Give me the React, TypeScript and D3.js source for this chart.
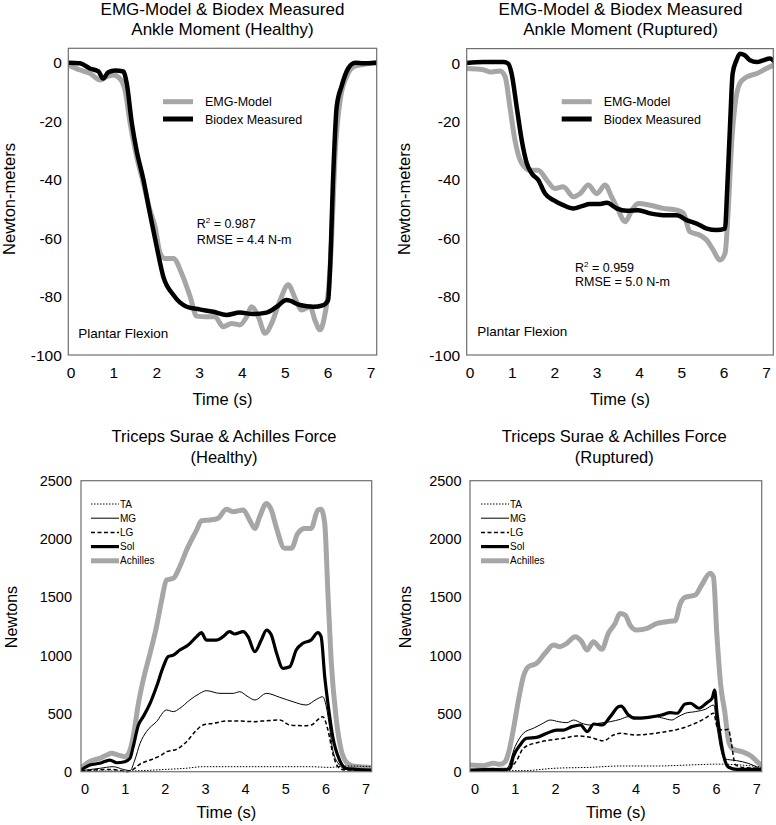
import React from "react";
import * as d3 from "d3";

type Pt = [number, number];

// ---------- DATA ----------
const xTickValues = [0, 1, 2, 3, 4, 5, 6, 7];
const momentTicks = [0, -20, -40, -60, -80, -100];
const forceTicks = [0, 500, 1000, 1500, 2000, 2500];

const healthyBiodex: Pt[] = [[-0.063,0],[0.21,-0.2],[0.44,-2],[0.64,-3],[0.75,-5.4],[0.87,-3.3],[1.03,-2.7],[1.22,-3],[1.3,-7],[1.42,-20.7],[1.53,-30],[1.69,-40],[1.84,-51.5],[2.0,-63],[2.15,-73],[2.39,-79.5],[2.7,-83.5],[3.0,-84.4],[3.32,-85.2],[3.63,-86.3],[3.94,-85.5],[4.25,-86],[4.56,-85.5],[4.8,-83.5],[5.03,-81.2],[5.34,-82.9],[5.65,-83.5],[5.89,-82.9],[6.0,-81.2],[6.04,-72],[6.12,-37.9],[6.2,-15],[6.31,-8.2],[6.47,-1.9],[6.63,0],[6.82,-0.2],[7.133,0]];
const healthyEMG: Pt[] = [[-0.063,-0.8],[0.21,-2.5],[0.44,-3.6],[0.68,-5.9],[0.83,-4.8],[0.99,-4.2],[1.14,-5.4],[1.26,-9.4],[1.38,-20.7],[1.53,-32],[1.69,-41.3],[1.84,-50.4],[1.96,-56],[2.08,-65.2],[2.19,-67],[2.39,-67],[2.58,-72],[2.78,-80],[2.93,-86.7],[3.16,-86.9],[3.36,-86.9],[3.55,-90.3],[3.75,-89.2],[3.94,-89.7],[4.1,-86.9],[4.21,-83.5],[4.37,-86.9],[4.53,-92.6],[4.68,-89.2],[4.88,-81.2],[5.07,-76],[5.23,-80.6],[5.38,-84.6],[5.58,-83.5],[5.69,-88],[5.81,-91.4],[5.93,-85.7],[6.0,-78.9],[6.08,-60.7],[6.16,-32],[6.28,-12.8],[6.43,-4.8],[6.59,-1.4],[6.74,-0.8],[7.133,0]];

const rupturedBiodex: Pt[] = [[-0.08,0],[0.31,0.3],[0.79,0.3],[0.9,-0.2],[0.98,-3.6],[1.1,-15],[1.22,-26.5],[1.34,-34.4],[1.46,-37.9],[1.61,-40.1],[1.77,-44.7],[1.97,-47],[2.2,-48.7],[2.44,-49.8],[2.64,-49],[2.83,-48.3],[3.03,-48.3],[3.23,-47.9],[3.46,-49.8],[3.7,-50.6],[3.97,-50.4],[4.25,-51.5],[4.56,-52.1],[4.88,-52.1],[5.11,-53.8],[5.35,-55],[5.59,-56.7],[5.82,-57.2],[6.02,-56.7],[6.07,-43.6],[6.14,-20.8],[6.2,-3.6],[6.29,0.9],[6.37,3.2],[6.49,2.6],[6.61,0.9],[6.77,0.3],[6.92,0.9],[7.08,1.5],[7.16,0.8]];
const rupturedEMG: Pt[] = [[-0.08,-1.9],[0.31,-2.3],[0.47,-3.1],[0.71,-2.7],[0.83,-4.8],[0.94,-15],[1.06,-26.5],[1.22,-34.4],[1.42,-36.7],[1.61,-36.7],[1.81,-40.1],[2.0,-43],[2.2,-42.4],[2.44,-45.8],[2.6,-44.7],[2.79,-41.8],[2.99,-44.7],[3.19,-41.8],[3.34,-45.8],[3.5,-50.4],[3.66,-54.4],[3.82,-50.4],[3.97,-48.1],[4.25,-48.7],[4.56,-49.8],[4.88,-50.4],[5.04,-51.5],[5.19,-57.8],[5.43,-59],[5.59,-60.7],[5.74,-64],[5.9,-67.5],[6.02,-65.2],[6.1,-49.3],[6.18,-26.5],[6.25,-15],[6.37,-7],[6.53,-4.8],[6.77,-3.6],[7.0,-1.9],[7.16,-0.8]];

const healthyAchilles: Pt[] = [[-0.1,29],[0.04,72],[0.21,100],[0.37,115],[0.54,143],[0.66,158],[0.83,143],[0.99,129],[1.12,186],[1.2,301],[1.33,587],[1.45,788],[1.62,1017],[1.78,1246],[1.91,1475],[2.03,1647],[2.2,1661],[2.36,1761],[2.53,1904],[2.78,2076],[2.9,2156],[3.11,2162],[3.31,2176],[3.52,2254],[3.69,2234],[3.94,2248],[4.1,2162],[4.23,2090],[4.35,2191],[4.52,2305],[4.64,2248],[4.76,2105],[4.97,1919],[5.14,1919],[5.3,2048],[5.47,2090],[5.63,2090],[5.8,2248],[5.88,2254],[5.97,2133],[6.05,1532],[6.13,959],[6.26,444],[6.38,186],[6.5,86],[6.67,49],[6.84,43],[7.14,37]];
const healthySol: Pt[] = [[-0.1,14],[0.12,57],[0.37,72],[0.62,100],[0.79,77],[0.99,86],[1.12,115],[1.2,215],[1.33,401],[1.45,473],[1.62,587],[1.78,730],[1.95,902],[2.07,988],[2.2,1002],[2.36,1045],[2.57,1088],[2.78,1160],[2.9,1194],[3.02,1131],[3.27,1131],[3.44,1160],[3.6,1203],[3.73,1183],[3.94,1203],[4.06,1160],[4.23,1031],[4.39,1131],[4.52,1217],[4.64,1174],[4.76,1031],[4.93,888],[5.1,902],[5.26,1045],[5.43,1103],[5.63,1131],[5.8,1194],[5.88,1160],[5.97,816],[6.05,587],[6.17,301],[6.34,100],[6.5,29],[6.75,20],[7.14,14]];
const healthyMG: Pt[] = [[-0.1,9],[0.37,29],[0.7,43],[0.95,20],[1.12,9],[1.24,100],[1.37,243],[1.53,344],[1.78,430],[2.03,530],[2.2,516],[2.36,544],[2.61,616],[2.86,673],[3.02,696],[3.36,673],[3.69,673],[3.85,687],[4.06,644],[4.23,616],[4.52,673],[4.85,639],[5.18,601],[5.51,573],[5.76,621],[5.92,644],[6.01,558],[6.09,387],[6.17,186],[6.34,57],[6.5,20],[7.14,14]];
const healthyLG: Pt[] = [[-0.1,6],[0.7,20],[1.04,0],[1.2,20],[1.37,66],[1.62,100],[1.86,135],[2.03,172],[2.28,192],[2.53,258],[2.78,358],[2.94,401],[3.19,415],[3.52,435],[3.85,435],[4.18,430],[4.52,438],[4.85,444],[5.1,401],[5.43,395],[5.63,401],[5.84,458],[5.92,473],[6.05,358],[6.17,158],[6.3,43],[6.46,14],[7.14,14]];
const healthyTA: Pt[] = [[-0.1,6],[1.04,6],[2.03,20],[2.5,29],[2.94,43],[4.0,43],[5.0,43],[5.6,43],[6.1,37],[6.5,49],[7.14,43]];

const rupturedAchilles: Pt[] = [[-0.124,57],[0.21,52],[0.46,72],[0.62,63],[0.75,86],[0.83,158],[0.95,358],[1.08,616],[1.2,816],[1.33,902],[1.53,931],[1.74,1017],[1.95,1088],[2.11,1074],[2.28,1103],[2.49,1160],[2.65,1117],[2.78,1045],[2.94,1117],[3.15,1051],[3.31,1188],[3.48,1274],[3.6,1360],[3.73,1346],[3.85,1260],[4.02,1217],[4.27,1231],[4.52,1274],[4.76,1289],[4.97,1297],[5.1,1446],[5.22,1498],[5.47,1518],[5.63,1604],[5.84,1704],[5.92,1675],[6.01,1160],[6.1,750],[6.2,520],[6.3,260],[6.4,195],[6.63,172],[6.88,129],[7.05,72],[7.12,55]];
const rupturedSol: Pt[] = [[-0.124,14],[0.46,20],[0.7,14],[0.87,29],[0.95,129],[1.12,229],[1.28,287],[1.53,295],[1.78,330],[2.03,358],[2.2,358],[2.41,387],[2.62,401],[2.79,344],[2.95,410],[3.16,401],[3.36,473],[3.57,560],[3.63,564],[3.81,487],[3.98,459],[4.31,467],[4.64,487],[4.85,507],[5.02,502],[5.22,582],[5.35,588],[5.56,545],[5.76,593],[5.89,631],[5.95,702],[6.01,502],[6.09,301],[6.18,129],[6.3,38],[6.5,20],[7.12,20]];
const rupturedMG: Pt[] = [[-0.124,14],[0.7,29],[0.79,29],[0.995,215],[1.2,330],[1.45,373],[1.66,410],[1.87,444],[2.07,430],[2.28,421],[2.45,444],[2.65,416],[2.86,401],[3.07,416],[3.36,430],[3.61,450],[3.81,473],[4.15,467],[4.48,473],[4.68,459],[4.89,444],[5.02,467],[5.22,502],[5.47,516],[5.72,536],[5.93,573],[6.01,387],[6.1,200],[6.2,110],[6.5,95],[6.8,70],[7.12,20]];
const rupturedLG: Pt[] = [[-0.124,10],[0.8,20],[1.04,100],[1.2,201],[1.53,249],[1.87,272],[2.2,287],[2.53,307],[2.86,295],[3.19,266],[3.44,315],[3.61,330],[3.98,315],[4.31,323],[4.73,344],[5.14,373],[5.47,416],[5.72,459],[5.93,502],[6.01,387],[6.14,358],[6.3,364],[6.34,300],[6.47,58],[6.7,35],[7.12,29]];
const rupturedTA: Pt[] = [[-0.124,6],[0.8,9],[1.2,9],[1.95,29],[2.9,38],[3.6,49],[4.5,49],[5.5,60],[6.0,65],[6.5,60],[7.12,40]];

const momentLegend = ["EMG-Model", "Biodex Measured"];
const forceLegend = ["TA", "MG", "LG", "Sol", "Achilles"];

// ---------- STYLES ----------
const FONT = "'Liberation Sans', Arial, Helvetica, sans-serif";
const GRAY = "#a6a6a6";

type Style = { stroke: string; width: number; dash?: string };
const emgStyle: Style = { stroke: GRAY, width: 5 };
const biodexStyle: Style = { stroke: "#000", width: 4.5 };
const taStyle: Style = { stroke: "#000", width: 1, dash: "1.5,1.5" };
const mgStyle: Style = { stroke: "#000", width: 1 };
const lgStyle: Style = { stroke: "#000", width: 1.5, dash: "4,2.5" };
const solStyle: Style = { stroke: "#000", width: 3.2 };
const achStyle: Style = { stroke: GRAY, width: 5 };

type Box = { l: number; r: number; t: number; b: number };

function Panel(props: {
  box: Box;
  xDom: [number, number];
  yDom: [number, number];
  yTicks: number[];
  series: { data: Pt[]; style: Style }[];
  tickSize: number;
  tickGap: number;
  xTickBase: number;
  yLabel: string;
  yLabelX: number;
  yLabelSize: number;
  yLabelCenter: number;
  titles: string[];
  titleBase: number[];
  titleCx: number;
  titleSize: number;
  xLabelBase: number;
  children?: React.ReactNode;
}) {
  const { box } = props;
  const x = d3.scaleLinear().domain(props.xDom).range([box.l, box.r]);
  const y = d3.scaleLinear().domain(props.yDom).range([box.b, box.t]);
  const line = d3
    .line<Pt>()
    .x((d) => x(d[0]))
    .y((d) => y(d[1]))
    .curve(d3.curveMonotoneX);
  const clipId = `clip-${Math.round(box.l)}-${Math.round(box.t)}`;
  return (
    <g fontFamily={FONT}>
      <defs>
        <clipPath id={clipId}>
          <rect x={box.l} y={box.t - 3} width={box.r - box.l} height={box.b - box.t + 6} />
        </clipPath>
      </defs>
      {props.titles.map((t, i) => (
        <text key={t} x={props.titleCx} y={props.titleBase[i]} textAnchor="middle" fontSize={props.titleSize} fill="#000">
          {t}
        </text>
      ))}
      <g clipPath={`url(#${clipId})`}>
        {props.series.map((s, i) => (
          <path
            key={i}
            d={line(s.data) || ""}
            fill="none"
            stroke={s.style.stroke}
            strokeWidth={s.style.width}
            strokeDasharray={s.style.dash}
            strokeLinejoin="round"
            strokeLinecap={s.style.dash ? "butt" : "round"}
          />
        ))}
      </g>
      <rect x={box.l} y={box.t} width={box.r - box.l} height={box.b - box.t} fill="none" stroke="#6e6e6e" strokeWidth={1.2} />
      {props.yTicks.map((v) => (
        <text key={v} x={box.l - props.tickGap} y={y(v)} dy="0.36em" textAnchor="end" fontSize={props.tickSize} fill="#000">
          {v}
        </text>
      ))}
      {xTickValues.map((v) => (
        <text key={v} x={x(v)} y={props.xTickBase} textAnchor="middle" fontSize={props.tickSize} fill="#000">
          {v}
        </text>
      ))}
      <text x={(box.l + box.r) / 2} y={props.xLabelBase} textAnchor="middle" fontSize={16.5} fill="#000">
        Time (s)
      </text>
      <text
        transform={`translate(${props.yLabelX},${props.yLabelCenter}) rotate(-90)`}
        textAnchor="middle"
        fontSize={props.yLabelSize}
        fill="#000"
      >
        {props.yLabel}
      </text>
      {props.children}
    </g>
  );
}

function MomentLegend({ x0, y0 }: { x0: number; y0: number }) {
  const styles = [emgStyle, biodexStyle];
  return (
    <g fontFamily={FONT}>
      {momentLegend.map((name, i) => (
        <g key={name}>
          <line x1={x0} x2={x0 + 30} y1={y0 + i * 17.3} y2={y0 + i * 17.3} stroke={styles[i].stroke} strokeWidth={5} />
          <text x={x0 + 42} y={y0 + i * 17.3 + 4.5} fontSize={12.5} fill="#000">
            {name}
          </text>
        </g>
      ))}
    </g>
  );
}

function ForceLegend({ x0, y0 }: { x0: number; y0: number }) {
  const styles = [taStyle, mgStyle, lgStyle, solStyle, achStyle];
  return (
    <g fontFamily={FONT}>
      {forceLegend.map((name, i) => (
        <g key={name}>
          <line
            x1={x0}
            x2={x0 + 28}
            y1={y0 + i * 14.2}
            y2={y0 + i * 14.2}
            stroke={styles[i].stroke}
            strokeWidth={styles[i].width}
            strokeDasharray={styles[i].dash}
          />
          <text x={x0 + 29} y={y0 + i * 14.2 + 3.6} fontSize={10} fill="#000">
            {name}
          </text>
        </g>
      ))}
    </g>
  );
}

function Stats({ x, y1, y2, r2, rmse }: { x: number; y1: number; y2: number; r2: string; rmse: string }) {
  return (
    <g fontFamily={FONT} fontSize={12.5} fill="#000">
      <text x={x} y={y1}>
        R
        <tspan dy={-5} fontSize={8}>2</tspan>
        <tspan dy={5}>{` = ${r2}`}</tspan>
      </text>
      <text x={x} y={y2}>{`RMSE = ${rmse} N-m`}</text>
    </g>
  );
}

export default function App() {
  const tl: Box = { l: 68.3, r: 376.7, t: 48.3, b: 355 };
  const tr: Box = { l: 466.7, r: 773.3, t: 48.6, b: 355 };
  const bl: Box = { l: 81, r: 371.7, t: 480.7, b: 771.7 };
  const br: Box = { l: 470, r: 761.7, t: 480.7, b: 771.7 };

  return (
    <svg width={776} height={825} style={{ position: "absolute", left: 0, top: 0, background: "#fff" }}>
      <rect width={776} height={825} fill="#fff" />
      <Panel
        box={tl}
        xDom={[-0.063, 7.133]}
        yDom={[-100, 4.93]}
        yTicks={momentTicks}
        series={[
          { data: healthyEMG, style: emgStyle },
          { data: healthyBiodex, style: biodexStyle },
        ]}
        tickSize={15.5}
        tickGap={6.5}
        xTickBase={378}
        yLabel="Newton-meters"
        yLabelX={15}
        yLabelSize={16.5}
        yLabelCenter={199}
        titles={["EMG-Model & Biodex Measured", "Ankle Moment (Healthy)"]}
        titleBase={[15, 35]}
        titleCx={222.5}
        titleSize={17}
        xLabelBase={405}
      >
        <MomentLegend x0={163} y0={101.7} />
        <Stats x={196.7} y1={227.5} y2={244} r2="0.987" rmse="4.4" />
        <text x={78.3} y={338.3} fontFamily={FONT} fontSize={13.5} fill="#000">Plantar Flexion</text>
      </Panel>

      <Panel
        box={tr}
        xDom={[-0.08, 7.16]}
        yDom={[-100, 4.93]}
        yTicks={momentTicks}
        series={[
          { data: rupturedEMG, style: emgStyle },
          { data: rupturedBiodex, style: biodexStyle },
        ]}
        tickSize={15.5}
        tickGap={6.5}
        xTickBase={378}
        yLabel="Newton-meters"
        yLabelX={410}
        yLabelSize={16.5}
        yLabelCenter={199}
        titles={["EMG-Model & Biodex Measured", "Ankle Moment (Ruptured)"]}
        titleBase={[15, 35]}
        titleCx={620.5}
        titleSize={17}
        xLabelBase={405}
      >
        <MomentLegend x0={561.7} y0={101.7} />
        <Stats x={575} y1={272.3} y2={286} r2="0.959" rmse="5.0" />
        <text x={477.3} y={335.5} fontFamily={FONT} fontSize={13.5} fill="#000">Plantar Flexion</text>
      </Panel>

      <Panel
        box={bl}
        xDom={[-0.1, 7.14]}
        yDom={[0, 2500]}
        yTicks={forceTicks}
        series={[
          { data: healthyAchilles, style: achStyle },
          { data: healthyTA, style: taStyle },
          { data: healthyLG, style: lgStyle },
          { data: healthyMG, style: mgStyle },
          { data: healthySol, style: solStyle },
        ]}
        tickSize={14.5}
        tickGap={9}
        xTickBase={794}
        yLabel="Newtons"
        yLabelX={17}
        yLabelSize={16}
        yLabelCenter={617}
        titles={["Triceps Surae & Achilles Force", "(Healthy)"]}
        titleBase={[441.7, 463]}
        titleCx={224}
        titleSize={16.5}
        xLabelBase={818}
      >
        <ForceLegend x0={91} y0={504} />
      </Panel>

      <Panel
        box={br}
        xDom={[-0.124, 7.12]}
        yDom={[0, 2500]}
        yTicks={forceTicks}
        series={[
          { data: rupturedAchilles, style: achStyle },
          { data: rupturedTA, style: taStyle },
          { data: rupturedLG, style: lgStyle },
          { data: rupturedMG, style: mgStyle },
          { data: rupturedSol, style: solStyle },
        ]}
        tickSize={14.5}
        tickGap={8.5}
        xTickBase={794}
        yLabel="Newtons"
        yLabelX={411}
        yLabelSize={16}
        yLabelCenter={617}
        titles={["Triceps Surae & Achilles Force", "(Ruptured)"]}
        titleBase={[441.7, 463]}
        titleCx={614.3}
        titleSize={16.5}
        xLabelBase={818}
      >
        <ForceLegend x0={481} y0={504} />
      </Panel>
    </svg>
  );
}
